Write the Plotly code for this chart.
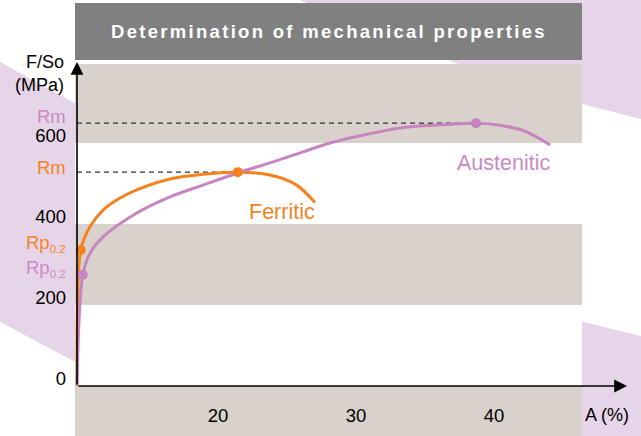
import plotly.graph_objects as go

W, H = 641, 436

# ---------------- data ----------------
ferritic_A = [9.78, 10.05, 10.72, 11.69, 12.90, 14.11, 16.52, 18.91, 21.43, 23.77, 25.70, 27.03]
ferritic_S = [0, 336, 393, 435, 464, 484, 511, 523, 528, 521, 496, 453]
austenitic_A = [9.78, 10.20, 10.73, 11.67, 14.11, 16.52, 18.91, 21.43, 23.77, 26.16, 28.12,
                33.19, 35.58, 38.70, 40.44, 42.39, 44.06]
austenitic_S = [0, 275, 328, 368, 427, 467, 496, 526, 551, 578, 600,
                637, 644, 649, 644, 627, 595]
# characteristic points: [Rp0.2, Rm]
ferritic_pts_A = [10.05, 21.43]
ferritic_pts_S = [336, 528]
austenitic_pts_A = [10.20, 38.70]
austenitic_pts_S = [275, 649]

ytick_vals = [0, 200, 400, 600]
ytick_text = ["0", "200", "400", "600"]
xtick_vals = [20, 30, 40]
xtick_text = ["20", "30", "40"]
band_ranges = [(600, 795), (200, 400)]
title_text = "Determination of mechanical properties"

# ---------------- styling ----------------
FONT = "Liberation Sans, Arial, Helvetica, sans-serif"
ORANGE = "#F5821F"
PURPLE = "#C784C1"
PURPLE_TXT = "#C98AC4"
DECOR = "#E6D5E8"
BEIGE = "#D9D1CB"
GRAY = "#808080"

# axis scale (px per unit)
KX, KY = 13.8, 0.405
X0_PX, Y0_PX = 77, 386
x_min = 9.78 - X0_PX / KX
x_max = x_min + W / KX
y_min = -(H - Y0_PX) / KY
y_max = Y0_PX / KY


def px(x):
    return x / W


def py(y):
    return 1 - y / H


def poly(points):
    return "M " + " L ".join(f"{px(a):.5f},{py(b):.5f}" for a, b in points) + " Z"


shapes = []
# decorative diagonal stripes
for pts in [
    [(0, 62), (100, 117), (100, 375), (0, 322)],
    [(300, 0), (641, 0), (641, 119), (582, 104), (453, 62)],
    [(560, 316), (641, 336), (641, 436), (560, 436)],
]:
    shapes.append(dict(type="path", path=poly(pts), xref="paper", yref="paper",
                       fillcolor=DECOR, line=dict(width=0), layer="below"))
# white plotting panel
shapes.append(dict(type="rect", xref="paper", yref="paper", x0=px(75), x1=px(582),
                   y0=py(436), y1=py(64), fillcolor="white", line=dict(width=0), layer="below"))
# beige bands
for lo, hi in band_ranges + [(y_min, 0)]:
    shapes.append(dict(type="rect", xref="paper", yref="y", x0=px(75), x1=px(582),
                       y0=lo, y1=hi, fillcolor=BEIGE, line=dict(width=0), layer="below"))
# title box
shapes.append(dict(type="rect", xref="paper", yref="paper", x0=px(75), x1=px(582),
                   y0=py(60), y1=py(3), fillcolor=GRAY, line=dict(width=0), layer="below"))

fig = go.Figure()
# dashed Rm guide lines
for A, S in [(ferritic_pts_A[1], ferritic_pts_S[1]), (austenitic_pts_A[1], austenitic_pts_S[1])]:
    fig.add_trace(go.Scatter(x=[ferritic_A[0], A], y=[S, S], mode="lines",
                             line=dict(color="#333333", width=1.2, dash="5px,4px"),
                             hoverinfo="skip", showlegend=False))
fig.add_trace(go.Scatter(x=ferritic_A, y=ferritic_S, mode="lines",
                         line=dict(color=ORANGE, width=3, shape="spline", smoothing=0.8),
                         showlegend=False))
fig.add_trace(go.Scatter(x=austenitic_A, y=austenitic_S, mode="lines",
                         line=dict(color=PURPLE, width=3, shape="spline", smoothing=0.9),
                         showlegend=False))
fig.add_trace(go.Scatter(x=austenitic_pts_A, y=austenitic_pts_S, mode="markers",
                         marker=dict(color=PURPLE, size=10), showlegend=False))
fig.add_trace(go.Scatter(x=ferritic_pts_A, y=ferritic_pts_S, mode="markers",
                         marker=dict(color=ORANGE, size=10), showlegend=False))

annotations = []
# axes arrows
annotations.append(dict(x=ferritic_A[0], y=(Y0_PX - 62) / KY, ax=ferritic_A[0], ay=0,
                        xref="x", yref="y", axref="x", ayref="y", text="", showarrow=True,
                        arrowhead=2, arrowsize=1.6, arrowwidth=1.6, arrowcolor="black", standoff=0))
annotations.append(dict(x=x_min + 627 / KX, y=0, ax=ferritic_A[0], ay=0,
                        xref="x", yref="y", axref="x", ayref="y", text="", showarrow=True,
                        arrowhead=2, arrowsize=1.6, arrowwidth=1.6, arrowcolor="black", standoff=0))
# axis titles
annotations.append(dict(x=px(66), y=py(73), xref="paper", yref="paper", text="F/So<br>(MPa)",
                        xanchor="right", yanchor="middle", align="right", showarrow=False,
                        font=dict(family=FONT, size=18, color="black")))
annotations.append(dict(x=px(607), y=py(415), xref="paper", yref="paper", text="A (%)",
                        xanchor="center", yanchor="middle", showarrow=False,
                        font=dict(family=FONT, size=18, color="black")))
# Rm / Rp labels
sub = '<sub><span style="font-size:11.5px">0.2</span></sub>'
for text, yv, col, shift in [
    ("Rm", austenitic_pts_S[1], PURPLE_TXT, 7),
    ("Rm", ferritic_pts_S[1], ORANGE, 5),
    ("Rp" + sub, ferritic_pts_S[0], ORANGE, 6),
    ("Rp" + sub, austenitic_pts_S[0], PURPLE_TXT, 6),
]:
    annotations.append(dict(x=px(67.5), y=yv, xref="paper", yref="y", text=text,
                            xanchor="right", yanchor="middle", showarrow=False, yshift=shift,
                            font=dict(family=FONT, size=18.5, color=col)))
# series labels
annotations.append(dict(x=24.64, y=(Y0_PX - 212) / KY, xref="x", yref="y", text="Ferritic",
                        showarrow=False, font=dict(family=FONT, size=21.5, color=ORANGE)))
annotations.append(dict(x=40.65, y=(Y0_PX - 163) / KY, xref="x", yref="y", text="Austenitic",
                        showarrow=False, font=dict(family=FONT, size=21.5, color=PURPLE_TXT)))
# title
annotations.append(dict(x=px(329), y=py(31.5), xref="paper", yref="paper",
                        text=f'<span style="letter-spacing:2.3px">{title_text}</span>',
                        showarrow=False, xanchor="center", yanchor="middle",
                        font=dict(family=FONT, size=18.5, color="white", weight="bold")))

fig.update_layout(
    width=W, height=H, margin=dict(l=0, r=0, t=0, b=0),
    paper_bgcolor="white", plot_bgcolor="rgba(0,0,0,0)",
    shapes=shapes, annotations=annotations, showlegend=False,
    xaxis=dict(domain=[0, 1], range=[x_min, x_max], anchor="free", position=(H - Y0_PX) / H,
               showgrid=False, zeroline=False, showline=False, ticks="",
               tickvals=xtick_vals, ticktext=xtick_text, ticklabelstandoff=16,
               tickfont=dict(family=FONT, size=18.5, color="black"), fixedrange=True),
    yaxis=dict(domain=[0, 1], range=[y_min, y_max], anchor="free", position=X0_PX / W,
               showgrid=False, zeroline=False, showline=False, ticks="",
               tickvals=ytick_vals, ticktext=ytick_text, ticklabelstandoff=11, ticklabelshift=-7,
               tickfont=dict(family=FONT, size=18.5, color="black"), fixedrange=True),
)

fig.write_html("out.html", config={"displayModeBar": False},
               post_script="document.body.style.margin='0';document.body.style.overflow='hidden';")
